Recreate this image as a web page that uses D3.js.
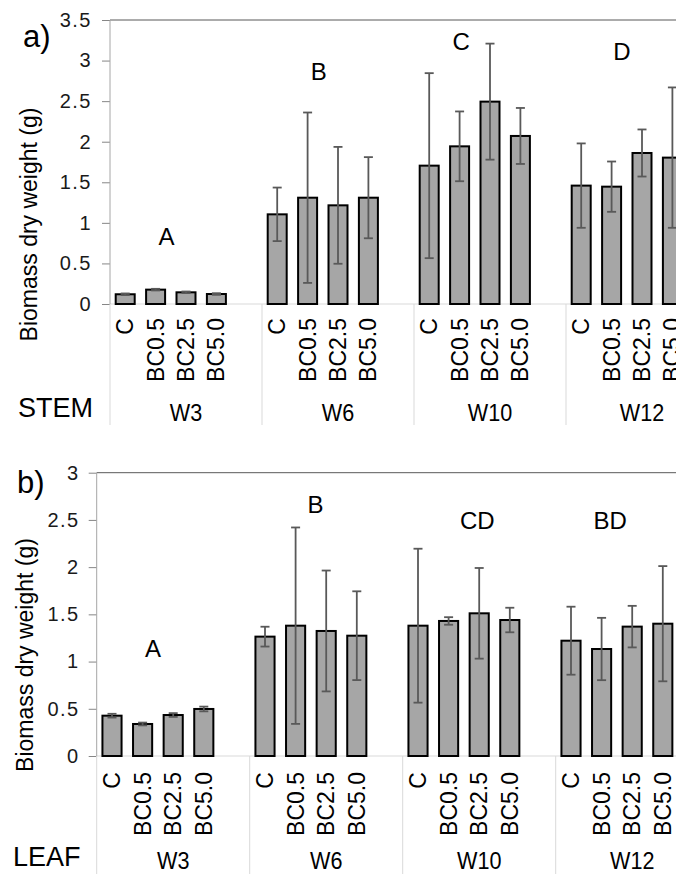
<!DOCTYPE html>
<html>
<head>
<meta charset="utf-8">
<script src="https://cdn.jsdelivr.net/npm/d3@7"></script>
<style>
  body { margin: 0; background: #fff; }
  svg { display: block; }
</style>
</head>
<body>
<script>
// Categories
const groups = ["W3", "W6", "W10", "W12"];
const treatments = ["C", "BC0.5", "BC2.5", "BC5.0"];

// STEM biomass (g), mean and error, 4 treatments per week
const stemMean = [0.12, 0.177, 0.144, 0.123, 1.105, 1.31, 1.216, 1.31, 1.705, 1.943, 2.494, 2.071, 1.459, 1.446, 1.861, 1.804];
const stemErr = [0.01, 0.01, 0.01, 0.01, 0.33, 1.05, 0.72, 0.5, 1.14, 0.43, 0.715, 0.345, 0.52, 0.31, 0.29, 0.865];
const stemTicks = [0, 0.5, 1, 1.5, 2, 2.5, 3, 3.5];
const stemLetters = ["A", "B", "C", "D"];
const stemLetterY = [0.73, 2.76, 3.13, 3.01];

// LEAF biomass (g)
const leafMean = [0.427, 0.339, 0.434, 0.498, 1.264, 1.38, 1.324, 1.274, 1.38, 1.43, 1.511, 1.44, 1.221, 1.133, 1.37, 1.401];
const leafErr = [0.02, 0.015, 0.02, 0.025, 0.105, 1.04, 0.64, 0.47, 0.815, 0.04, 0.48, 0.13, 0.36, 0.33, 0.22, 0.61];
const leafTicks = [0, 0.5, 1, 1.5, 2, 2.5, 3];
const leafLetters = ["A", "B", "CD", "BD"];
const leafLetterY = [1.05, 2.57, 2.40, 2.40];

const font = "'Liberation Sans', Arial, sans-serif";
const width = 676, height = 874;

const svg = d3.select("body").append("svg")
    .attr("width", width)
    .attr("height", height)
    .attr("viewBox", [0, 0, width, height]);

function drawPanel(p) {
    // one slot per treatment plus an empty slot after each week
    const keys = [];
    groups.forEach(g => {
        treatments.forEach(t => keys.push(g + "|" + t));
        keys.push(g + "|gap");
    });
    const right = p.left + p.groupW * groups.length;
    const x = d3.scaleBand().domain(keys).range([p.left, right])
        .paddingInner(0.375).paddingOuter(0.1875);
    const xg = d3.scaleBand().domain(groups).range([p.left, right]);
    const y = d3.scaleLinear().domain([0, p.max]).range([p.base, p.top]);

    const rows = p.mean.map((v, i) => ({
        key: groups[Math.floor(i / 4)] + "|" + treatments[i % 4],
        t: treatments[i % 4],
        v: v,
        e: p.err[i]
    }));

    const g = svg.append("g");

    // top border of plot area
    g.append("line")
        .attr("x1", p.left).attr("x2", width)
        .attr("y1", y(p.max)).attr("y2", y(p.max))
        .attr("stroke", "#595959").attr("stroke-width", 1);

    // baseline
    g.append("line")
        .attr("x1", p.left).attr("x2", width)
        .attr("y1", y(0)).attr("y2", y(0))
        .attr("stroke", "#d9d9d9").attr("stroke-width", 1);

    // y axis
    const axis = g.append("g")
        .attr("transform", `translate(${p.left},0)`)
        .call(d3.axisLeft(y).tickValues(p.ticks).tickFormat(String).tickSize(8).tickPadding(p.tickPad));
    axis.select(".domain").remove();
    axis.selectAll(".tick line").attr("stroke", "#868686");
    axis.selectAll(".tick text")
        .attr("font-family", font).attr("font-size", 20)
        .attr("letter-spacing", 1.5).attr("fill", "#1a1a1a");

    g.append("line")
        .attr("x1", p.left).attr("x2", p.left)
        .attr("y1", y(p.max)).attr("y2", y(0))
        .attr("stroke", "#a6a6a6");

    // week separators below the axis
    g.selectAll(".sep").data(groups).join("line")
        .attr("x1", d => xg(d)).attr("x2", d => xg(d))
        .attr("y1", y(0)).attr("y2", p.sepBottom)
        .attr("stroke", "#d9d9d9");

    // bars
    g.selectAll(".bar").data(rows).join("rect")
        .attr("x", d => x(d.key))
        .attr("y", d => y(d.v))
        .attr("width", x.bandwidth())
        .attr("height", d => y(0) - y(d.v))
        .attr("fill", "#a6a6a6")
        .attr("stroke", "#000")
        .attr("stroke-width", 2);

    // error bars
    const eb = g.selectAll(".err").data(rows).join("g")
        .attr("stroke", "#595959").attr("stroke-width", 1.8);
    const cx = d => x(d.key) + x.bandwidth() / 2;
    eb.append("line")
        .attr("x1", cx).attr("x2", cx)
        .attr("y1", d => y(d.v + d.e)).attr("y2", d => y(Math.max(0, d.v - d.e)));
    eb.append("line")
        .attr("x1", d => cx(d) - 4.5).attr("x2", d => cx(d) + 4.5)
        .attr("y1", d => y(d.v + d.e)).attr("y2", d => y(d.v + d.e));
    eb.append("line")
        .attr("x1", d => cx(d) - 4.5).attr("x2", d => cx(d) + 4.5)
        .attr("y1", d => y(Math.max(0, d.v - d.e))).attr("y2", d => y(Math.max(0, d.v - d.e)));

    // significance letters
    g.selectAll(".letter").data(p.letters).join("text")
        .attr("x", (d, i) => xg(groups[i]) + p.letterSlot[i] * x.step())
        .attr("y", (d, i) => y(p.letterY[i]))
        .attr("text-anchor", "middle")
        .attr("font-family", font).attr("font-size", 24)
        .text(d => d);

    // rotated treatment labels
    g.selectAll(".cat").data(rows).join("text")
        .attr("transform", d => `translate(${cx(d)},${p.catTop}) rotate(-90)`)
        .attr("dy", "0.35em")
        .attr("text-anchor", "end")
        .attr("font-family", font).attr("font-size", 23)
        .text(d => d.t);

    // week labels (slightly condensed like the original)
    g.selectAll(".wk").data(groups).join("text")
        .attr("transform", d => `translate(${xg(d) + xg.bandwidth() / 2},${p.groupLabelY}) scale(0.9,1)`)
        .attr("text-anchor", "middle")
        .attr("font-family", font).attr("font-size", 24)
        .text(d => d);

    // organ label
    g.append("text")
        .attr("x", p.rowLabel[1]).attr("y", p.rowLabel[2])
        .attr("font-family", font).attr("font-size", 27)
        .text(p.rowLabel[0]);

    // panel label
    g.append("text")
        .attr("x", p.panelLabel[1]).attr("y", p.panelLabel[2])
        .attr("font-family", font).attr("font-size", 31)
        .text(p.panelLabel[0]);

    // y axis title
    g.append("text")
        .attr("transform", `translate(${p.yTitle[0]},${p.yTitle[1]}) rotate(-90)`)
        .attr("text-anchor", "middle")
        .attr("font-family", font).attr("font-size", 23)
        .text("Biomass dry weight (g)");
}

drawPanel({
    mean: stemMean, err: stemErr, ticks: stemTicks,
    letters: stemLetters, letterY: stemLetterY, letterSlot: [1.86, 1.87, 1.55, 1.84],
    left: 110, groupW: 152, top: 20, base: 304, max: 3.5, tickPad: 10,
    catTop: 318, groupLabelY: 421, sepBottom: 425,
    rowLabel: ["STEM", 18, 417], panelLabel: ["a)", 23, 47], yTitle: [37, 224.5]
});

drawPanel({
    mean: leafMean, err: leafErr, ticks: leafTicks,
    letters: leafLetters, letterY: leafLetterY, letterSlot: [1.84, 2.15, 2.44, 1.78],
    left: 96.7, groupW: 153, top: 472.7, base: 756, max: 3, tickPad: 9,
    catTop: 772, groupLabelY: 869, sepBottom: 874,
    rowLabel: ["LEAF", 13, 866], panelLabel: ["b)", 17, 493], yTitle: [33, 655]
});
</script>
</body>
</html>
